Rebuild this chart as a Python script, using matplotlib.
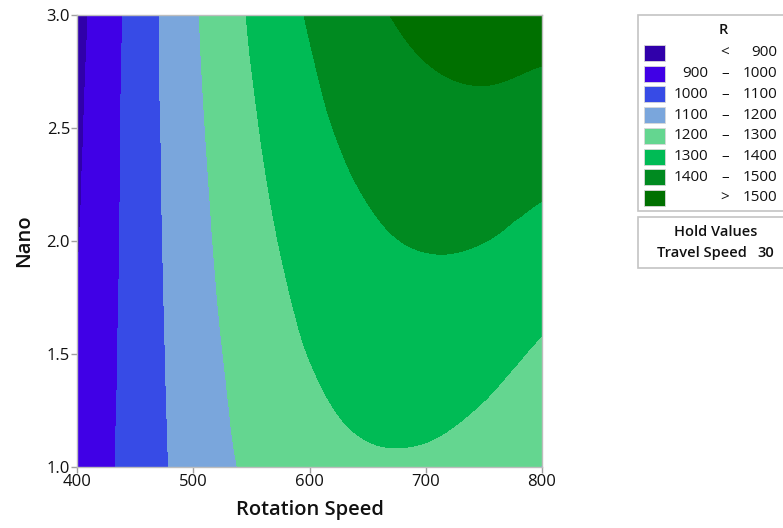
import numpy as np
import matplotlib
matplotlib.use("Agg")
import matplotlib.pyplot as plt
import matplotlib.tri as mtri
from matplotlib.patches import Rectangle

# ---- data ----
rotation_speed = [400, 450, 500, 550, 600, 650, 700, 750, 800]
nano = [1.0, 1.25, 1.5, 1.75, 2.0, 2.25, 2.5, 2.75, 3.0]
# R values: one row per nano level (bottom to top), one column per rotation speed
R_nano_100 = [919, 1039, 1141, 1216, 1266, 1289, 1287, 1258, 1198]
R_nano_125 = [913, 1039, 1146, 1228, 1284, 1313, 1317, 1294, 1245]
R_nano_150 = [907, 1038, 1152, 1240, 1302, 1337, 1346, 1330, 1287]
R_nano_175 = [901, 1038, 1158, 1252, 1319, 1361, 1376, 1366, 1329]
R_nano_200 = [894, 1038, 1164, 1263, 1337, 1385, 1406, 1401, 1371]
R_nano_225 = [888, 1037, 1169, 1275, 1355, 1408, 1436, 1437, 1412]
R_nano_250 = [882, 1037, 1175, 1287, 1373, 1432, 1466, 1473, 1454]
R_nano_275 = [876, 1037, 1181, 1299, 1390, 1456, 1495, 1509, 1496]
R_nano_300 = [869, 1036, 1186, 1310, 1408, 1480, 1525, 1545, 1538]

level_bounds = [0, 900, 1000, 1100, 1200, 1300, 1400, 1500, 3000]
level_colors = ["#3000AA", "#4000E6", "#374BE6", "#7AA6DC",
                "#64D690", "#00BB55", "#008A20", "#007000"]
legend_left = ["", "900", "1000", "1100", "1200", "1300", "1400", ""]
legend_mid = ["<", "–", "–", "–", "–", "–", "–", ">"]
legend_right = ["900", "1000", "1100", "1200", "1300", "1400", "1500", "1500"]
hold_label = "Travel Speed"
hold_value = "30"

plt.rcParams['font.family'] = ['Open Sans', 'DejaVu Sans']

W, H = 783, 528
fig = plt.figure(figsize=(W / 100, H / 100), dpi=100)

def fx(px):
    return px / W

def fy(py):
    return 1 - py / H

ax = fig.add_axes([fx(77), fy(467), fx(542) - fx(77), fy(15) - fy(467)])

Z = np.array([R_nano_100, R_nano_125, R_nano_150, R_nano_175, R_nano_200,
              R_nano_225, R_nano_250, R_nano_275, R_nano_300], dtype=float)
X, Y = np.meshgrid(rotation_speed, nano)
tri = mtri.Triangulation(X.ravel(), Y.ravel())
refiner = mtri.UniformTriRefiner(tri)
interp = mtri.CubicTriInterpolator(tri, Z.ravel(), kind='geom')
tri_f, z_f = refiner.refine_field(Z.ravel(), triinterpolator=interp, subdiv=5)
ax.tricontourf(tri_f, z_f, levels=level_bounds, colors=level_colors,
               antialiased=False)

ax.set_xlim(400, 800)
ax.set_ylim(1.0, 3.0)
ax.set_xticks([400, 500, 600, 700, 800])
ax.set_yticks([1.0, 1.5, 2.0, 2.5, 3.0])
ax.set_yticklabels(["1.0", "1.5", "2.0", "2.5", "3.0"])
for s in ax.spines.values():
    s.set_color("#BDBDBD")
    s.set_linewidth(1.0)
ax.tick_params(axis='both', direction='out', length=4, width=1,
               color="#A0A0A0", labelsize=12, labelcolor="#111111", pad=1)
ax.set_xlabel("Rotation Speed", fontsize=14.5, fontweight='semibold',
              color="#111111", labelpad=7)
ax.set_ylabel("Nano", fontsize=14.5, fontweight='semibold',
              color="#111111", labelpad=9)

# ---- legend drawn in figure pixel coordinates ----
box1 = Rectangle((fx(638), fy(211)), fx(800) - fx(638), fy(15) - fy(211),
                 transform=fig.transFigure, facecolor='white',
                 edgecolor='#C4C4C4', lw=1.2)
fig.patches.append(box1)
box2 = Rectangle((fx(638), fy(268)), fx(800) - fx(638), fy(217) - fy(268),
                 transform=fig.transFigure, facecolor='white',
                 edgecolor='#C4C4C4', lw=1.2)
fig.patches.append(box2)

fig.text(fx(723), fy(30), "R", ha='center', va='center', fontsize=10.5,
         fontweight='semibold', color="#111111")
row0 = 53.0
step = 20.7
for i in range(8):
    cy = row0 + i * step
    sw = Rectangle((fx(644), fy(cy + 8)), fx(665) - fx(644), fy(cy - 8) - fy(cy + 8),
                   transform=fig.transFigure, facecolor=level_colors[i],
                   edgecolor='#D8D8D8', lw=0.6)
    fig.patches.append(sw)
    if legend_left[i]:
        fig.text(fx(708), fy(cy), legend_left[i], ha='right', va='center',
                 fontsize=11, color="#111111")
    fig.text(fx(725), fy(cy), legend_mid[i], ha='center', va='center',
             fontsize=11, color="#111111")
    fig.text(fx(777), fy(cy), legend_right[i], ha='right', va='center',
             fontsize=11, color="#111111")

fig.text(fx(716), fy(232), "Hold Values", ha='center', va='center',
         fontsize=10.5, fontweight='semibold', color="#111111")
fig.text(fx(657), fy(253), hold_label, ha='left', va='center',
         fontsize=10.5, fontweight='semibold', color="#111111")
fig.text(fx(774), fy(253), hold_value, ha='right', va='center',
         fontsize=10.5, fontweight='semibold', color="#111111")

fig.savefig("out.png", dpi=100)
